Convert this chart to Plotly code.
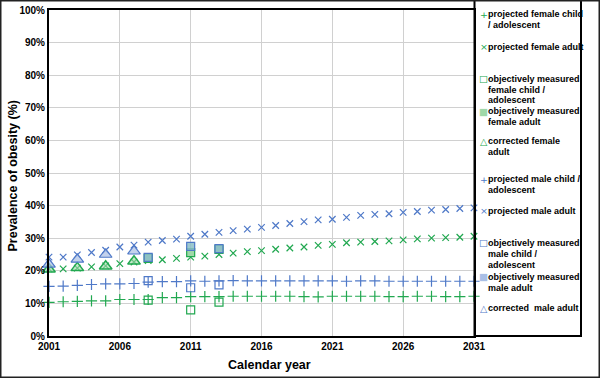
import plotly.graph_objects as go

years = list(range(2001, 2032))

proj_female_child = [10.3, 10.5, 10.6, 10.8, 10.8, 11.2, 11.2, 11.2, 11.8, 11.8, 12.1, 12.1, 12.1, 12.2, 12.2, 12.2,
                     12.2, 12.2, 12.1, 12.0, 12.2, 12.2, 12.2, 12.2, 12.1, 12.1, 12.2, 12.2, 12.1, 12.1, 12.2]
proj_female_adult = [20.6, 20.6, 20.8, 21.2, 21.5, 22.2, 22.7, 23.1, 23.4, 23.8, 24.2, 24.5, 25.0, 25.4, 25.9, 26.2,
                     26.6, 27.0, 27.3, 27.8, 28.1, 28.6, 28.8, 29.0, 29.2, 29.5, 29.8, 30.0, 30.2, 30.3, 30.6]
proj_male_child = [15.2, 15.3, 15.5, 15.8, 16.0, 16.0, 16.1, 16.5, 16.7, 16.7, 16.9, 16.8, 16.9, 17.0, 16.9, 16.9,
                   16.9, 16.9, 16.9, 16.9, 16.9, 16.8, 16.9, 16.9, 16.8, 16.8, 16.8, 16.8, 16.8, 16.8, 16.8]
proj_male_adult = [24.2, 24.2, 24.9, 25.6, 26.3, 27.3, 27.9, 28.8, 29.3, 29.7, 30.6, 31.2, 31.8, 32.3, 32.8, 33.3,
                   33.9, 34.5, 35.1, 35.6, 35.8, 36.4, 37.0, 37.3, 37.5, 37.9, 38.2, 38.6, 38.8, 39.1, 39.3]

meas_years = [2008, 2011, 2013]
meas_female_child = [11.0, 8.0, 10.4]
meas_female_adult = [23.8, 25.6, 26.6]
meas_male_child = [17.0, 14.8, 15.7]
meas_male_adult = [24.1, 27.5, 26.8]

corr_years = [2001, 2003, 2005, 2007]
corr_female_adult = [20.5, 20.9, 21.4, 22.9]
corr_male_adult = [22.0, 23.5, 25.0, 26.0]

x_ticks = [2001, 2006, 2011, 2016, 2021, 2026, 2031]

GREEN = "#21a850"
GREEN_L = "#9fd8a8"
BLUE = "#4f79c8"
BLUE_L = "#a9bfe6"
FONT = "Liberation Sans"

fig = go.Figure()

def add(x, y, name, symbol, size, color, fill=None, lw=1.2):
    marker = dict(symbol=symbol, size=size, line=dict(color=color, width=lw))
    marker["color"] = fill if fill is not None else color
    fig.add_trace(go.Scatter(x=x, y=y, mode="markers", name=name, marker=marker,
                             cliponaxis=False, showlegend=False))

add(years, proj_female_child, "projected female child / adolescent", "cross-thin-open", 8, GREEN)
add(years, proj_female_adult, "projected female adult", "x-thin-open", 6.5, GREEN)
add(years, proj_male_child, "projected male child / adolescent", "cross-thin-open", 8, BLUE)
add(years, proj_male_adult, "projected male adult", "x-thin-open", 6.5, BLUE)
add(corr_years, corr_female_adult, "corrected female adult", "triangle-up", 11, GREEN, fill="rgba(159,216,168,0.6)", lw=1.5)
add(corr_years, corr_male_adult, "corrected  male adult", "triangle-up", 11, BLUE, fill="rgba(169,191,230,0.7)", lw=1.2)
add(meas_years, meas_female_child, "objectively measured female child / adolescent", "square-open", 8, GREEN)
add(meas_years, meas_male_child, "objectively measured male child / adolescent", "square-open", 8, BLUE)
add(meas_years, meas_female_adult, "objectively measured female adult", "square", 8, GREEN, fill=GREEN_L)
add(meas_years, meas_male_adult, "objectively measured male adult", "square", 8, BLUE, fill="rgba(140,190,200,0.85)")

L, R, T, B = 49, 126, 10, 42
PW, PH = 600 - L - R, 378 - T - B

def px(xp):
    return (xp - L) / PW

def py(yp):
    return (378 - B - yp) / PH

legend_entries = [
    ("+", GREEN, ["projected female child", "/ adolescent"], 14),
    ("×", GREEN, ["projected female adult"], 46.7),
    ("□", GREEN, ["objectively measured", "female child /", "adolescent"], 78.5),
    ("■", GREEN_L, ["objectively measured", "female adult"], 111),
    ("△", GREEN, ["corrected female", "adult"], 141),
    ("+", BLUE, ["projected male child /", "adolescent"], 179),
    ("×", BLUE, ["projected male adult"], 210.7),
    ("□", BLUE, ["objectively measured", "male child /", "adolescent"], 242.5),
    ("■", BLUE_L, ["objectively measured", "male adult"], 276.7),
    ("△", BLUE, ["corrected  male adult"], 308.3),
]
LH = 11.0
annotations = []
for sym, col, lines, y0 in legend_entries:
    annotations.append(dict(x=px(483.5), y=py(y0), xref="paper", yref="paper", text=sym,
                            showarrow=False, xanchor="center", yanchor="middle",
                            font=dict(family="DejaVu Sans", size=9.5, color=col)))
    for i, line in enumerate(lines):
        annotations.append(dict(x=px(487), y=py(y0 + i * LH), xref="paper", yref="paper",
                                text=line, showarrow=False, xanchor="left", yanchor="middle",
                                borderpad=0,
                                font=dict(family=FONT, size=9, color="#000", weight="bold")))

# axis titles
annotations.append(dict(x=px(269), y=py(365), xref="paper", yref="paper", text="Calendar year",
                        showarrow=False, xanchor="center", yanchor="middle",
                        font=dict(family=FONT, size=12.5, color="#000", weight="bold")))
annotations.append(dict(x=px(12), y=py(176.5), xref="paper", yref="paper", text="Prevalence of obesity (%)",
                        showarrow=False, xanchor="center", yanchor="middle", textangle=-90,
                        font=dict(family=FONT, size=12.5, color="#000", weight="bold")))

shapes = [
    dict(type="rect", xref="paper", yref="paper", x0=px(474.5), x1=px(581), y0=py(336), y1=py(0),
         line=dict(color="black", width=2), layer="above"),
    dict(type="rect", xref="paper", yref="paper", x0=px(0.75), x1=px(599.25), y0=py(377.25), y1=py(0.75),
         line=dict(color="#222", width=1.5), layer="above"),
]

fig.update_layout(
    width=600, height=378,
    margin=dict(l=L, r=R, t=T, b=B, autoexpand=False),
    paper_bgcolor="white", plot_bgcolor="white",
    font=dict(family=FONT, color="black"),
    annotations=annotations,
    shapes=shapes,
    showlegend=False,
    xaxis=dict(range=[2001, 2031], tickvals=x_ticks, ticktext=[str(v) for v in x_ticks],
               showgrid=True, gridcolor="#d0d0d0", gridwidth=1, automargin=False,
               showline=True, linecolor="black", linewidth=2, mirror=True,
               ticks="", zeroline=False,
               tickfont=dict(family=FONT, size=10, weight="bold")),
    yaxis=dict(range=[0, 100], dtick=10, tick0=0, ticksuffix="%",
               showgrid=True, gridcolor="#d0d0d0", gridwidth=1, automargin=False,
               showline=True, linecolor="black", linewidth=2, mirror=True,
               ticks="", zeroline=False,
               tickfont=dict(family=FONT, size=10, weight="bold")),
)

fig.write_html("out.html", config={"displayModeBar": False},
               post_script="document.body.style.margin='0';document.body.style.overflow='hidden';")
